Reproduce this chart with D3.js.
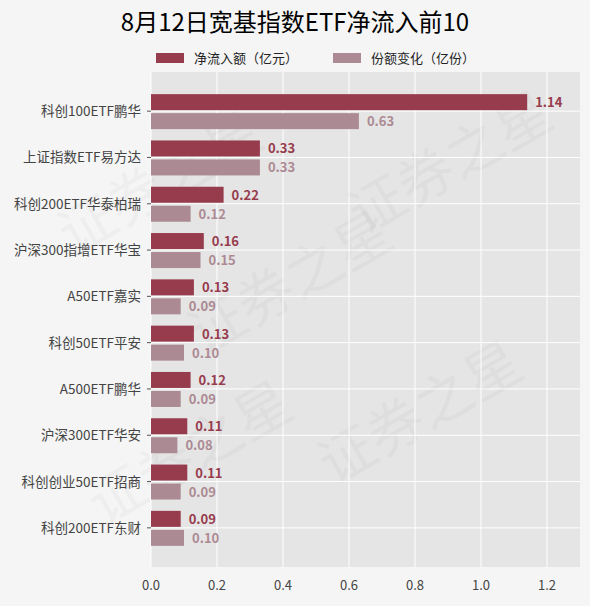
<!DOCTYPE html><html><head><meta charset="utf-8"><script src="https://cdn.jsdelivr.net/npm/d3@7"></script>
<style>body{margin:0;background:#f5f5f5;font-family:"Noto Sans CJK SC","Noto Sans",sans-serif}</style></head><body><svg id="c" width="590" height="606"></svg><script>
const categories=["科创100ETF鹏华","上证指数ETF易方达","科创200ETF华泰柏瑞","沪深300指增ETF华宝","A50ETF嘉实","科创50ETF平安","A500ETF鹏华","沪深300ETF华安","科创创业50ETF招商","科创200ETF东财"];
const netInflow=[1.14,0.33,0.22,0.16,0.13,0.13,0.12,0.11,0.11,0.09];
const shareChange=[0.63,0.33,0.12,0.15,0.09,0.10,0.09,0.08,0.09,0.10];
const xTicks=[0,0.2,0.4,0.6,0.8,1.0,1.2];
const seriesNames=["净流入额（亿元）","份额变化（亿份）"];
const colors=["#973c4d","#ac8a93"];
const svg=d3.select("#c");
const L=151,R=580,T=72,B=567;
const x=d3.scaleLinear().domain([0,1.3]).range([L,R]);
const y=d3.scaleBand().domain(categories).range([88,551]);
svg.append("rect").attr("x",L).attr("y",T).attr("width",R-L).attr("height",B-T).attr("fill","#e5e5e5");
[[300,300],[170,200],[430,430],[200,470],[460,180]].forEach(([a,b])=>svg.append("text").attr("transform",`translate(${a},${b}) rotate(-30)`).attr("text-anchor","middle").attr("font-size",56).attr("fill","#000").attr("opacity",0.025).text("证券之星"));
svg.selectAll(".vg").data(xTicks).join("line").attr("x1",d=>x(d)).attr("x2",d=>x(d)).attr("y1",T).attr("y2",B).attr("stroke","#fff");
svg.selectAll(".hg").data(categories).join("line").attr("x1",L).attr("x2",R).attr("y1",d=>y(d)+y.bandwidth()/2).attr("y2",d=>y(d)+y.bandwidth()/2).attr("stroke","#fff");
const g=svg.append("g");
categories.forEach((c,i)=>{
 const cy=y(c)+y.bandwidth()/2;
 [[netInflow[i],cy-17],[shareChange[i],cy+2]].forEach(([v,yy],k)=>{
  g.append("rect").attr("x",x(0)).attr("y",yy).attr("width",x(v)-x(0)).attr("height",16).attr("fill",colors[k]);
  g.append("text").attr("x",x(v)+8).attr("y",yy+13).attr("font-size",13).attr("font-weight","bold").attr("fill",colors[k]).text(v.toFixed(2));
 });
 svg.append("line").attr("x1",L-4).attr("x2",L).attr("y1",cy).attr("y2",cy).attr("stroke","#555");
 svg.append("text").attr("x",L-10).attr("y",cy+5).attr("text-anchor","end").attr("font-size",13.5).attr("fill","#444").text(c);
});
svg.selectAll(".xt").data(xTicks).join("text").attr("x",d=>x(d)).attr("y",B+23).attr("text-anchor","middle").attr("font-size",13).attr("fill","#444").text(d=>d===0?"0.0":d.toFixed(1));
svg.append("text").attr("x",295).attr("y",31).attr("text-anchor","middle").attr("font-size",24).attr("fill","#000").text("8月12日宽基指数ETF净流入前10");
[[156,0],[333,1]].forEach(([lx,k])=>{
 svg.append("rect").attr("x",lx).attr("y",53).attr("width",28).attr("height",10).attr("fill",colors[k]);
 svg.append("text").attr("x",lx+38).attr("y",63).attr("font-size",13).attr("fill","#222").text(seriesNames[k]);
});
</script></body></html>
